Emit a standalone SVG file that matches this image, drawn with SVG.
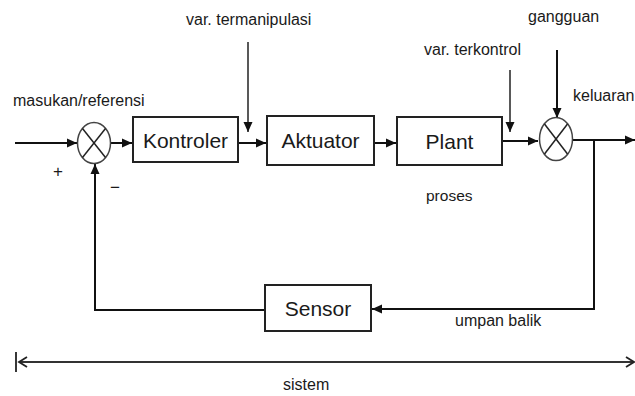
<svg xmlns="http://www.w3.org/2000/svg" width="635" height="396" viewBox="0 0 635 396">
<defs>
<marker id="ah" markerWidth="11" markerHeight="11" refX="10" refY="5.5" orient="auto" markerUnits="userSpaceOnUse">
<path d="M0,1 L10,5.5 L0,10 Z" fill="#111"/>
</marker>
<marker id="open" markerWidth="12" markerHeight="12" refX="9" refY="6" orient="auto-start-reverse" markerUnits="userSpaceOnUse">
<path d="M1,1 L9,6 L1,11" fill="none" stroke="#222" stroke-width="1.8"/>
</marker>
</defs>
<style>
.box{fill:#fff;stroke:#222;stroke-width:2}
.sum{fill:#fff;stroke:#444;stroke-width:1.5}
.ln{fill:none;stroke:#111;stroke-width:2}
.thin{fill:none;stroke:#222;stroke-width:1.5}
.big{font-family:"Liberation Sans",Arial,sans-serif;font-size:21px;fill:#1a1a1a;text-anchor:middle}
.lbl{font-family:"Liberation Sans",Arial,sans-serif;font-size:16px;fill:#1a1a1a}
</style>
<rect width="635" height="396" fill="#fff"/>

<g id="connectors">
<line class="ln" x1="15" y1="143" x2="77" y2="143" marker-end="url(#ah)"/>
<line class="ln" x1="111" y1="143" x2="132" y2="143" marker-end="url(#ah)"/>
<line class="ln" x1="238" y1="143" x2="266" y2="143" marker-end="url(#ah)"/>
<line class="ln" x1="374" y1="143" x2="396" y2="143" marker-end="url(#ah)"/>
<line class="ln" x1="502" y1="141" x2="538" y2="141" marker-end="url(#ah)"/>
<line class="ln" x1="573" y1="140" x2="635" y2="140" marker-end="url(#ah)"/>
<line class="thin" x1="248" y1="42" x2="248" y2="132" marker-end="url(#ah)"/>
<line class="thin" x1="510" y1="70" x2="510" y2="132" marker-end="url(#ah)"/>
<line class="ln" x1="557" y1="50" x2="557" y2="118" marker-end="url(#ah)"/>
<polyline class="ln" points="594,140 594,309 372,309" marker-end="url(#ah)"/>
<polyline class="ln" points="265,310 95,310 95,164" marker-end="url(#ah)"/>
<line x1="16" y1="352" x2="16" y2="372" stroke="#222" stroke-width="1.8"/>
<line x1="19" y1="362" x2="634" y2="362" stroke="#333" stroke-width="1.8" marker-start="url(#open)" marker-end="url(#open)"/>
</g>

<g id="sum1">
<ellipse class="sum" cx="94" cy="143" rx="16.5" ry="20.5"/>
<line class="thin" x1="82.5" y1="128.5" x2="105.5" y2="157.5" stroke="#444"/>
<line class="thin" x1="105.5" y1="128.5" x2="82.5" y2="157.5" stroke="#444"/>
</g>
<g id="sum2">
<ellipse class="sum" cx="556" cy="139" rx="16.5" ry="21.5"/>
<line class="thin" x1="544.5" y1="124" x2="567.5" y2="154" stroke="#444"/>
<line class="thin" x1="567.5" y1="124" x2="544.5" y2="154" stroke="#444"/>
</g>

<g id="kontroler">
<rect class="box" x="133" y="117" width="105" height="45"/>
<text class="big" x="185.5" y="148">Kontroler</text>
</g>
<g id="aktuator">
<rect class="box" x="267" y="116" width="107" height="49"/>
<text class="big" x="320.5" y="148">Aktuator</text>
</g>
<g id="plant">
<rect class="box" x="397" y="117" width="105" height="48"/>
<text class="big" x="449.5" y="149">Plant</text>
</g>
<g id="sensor">
<rect class="box" x="265" y="285" width="106" height="46"/>
<text class="big" x="318" y="316">Sensor</text>
</g>

<g id="labels">
<text class="lbl" x="186" y="25">var. termanipulasi</text>
<text class="lbl" x="13" y="106">masukan/referensi</text>
<text class="lbl" x="424" y="55">var. terkontrol</text>
<text class="lbl" x="528" y="22">gangguan</text>
<text class="lbl" x="573" y="101">keluaran</text>
<text class="lbl" x="426" y="201" style="font-size:15.5px">proses</text>
<text class="lbl" x="455" y="326">umpan balik</text>
<text class="lbl" x="283" y="390">sistem</text>
<text class="lbl" x="53" y="177" style="font-size:17px">+</text>
<text class="lbl" x="110" y="193" style="font-size:17px">−</text>
</g>
</svg>
